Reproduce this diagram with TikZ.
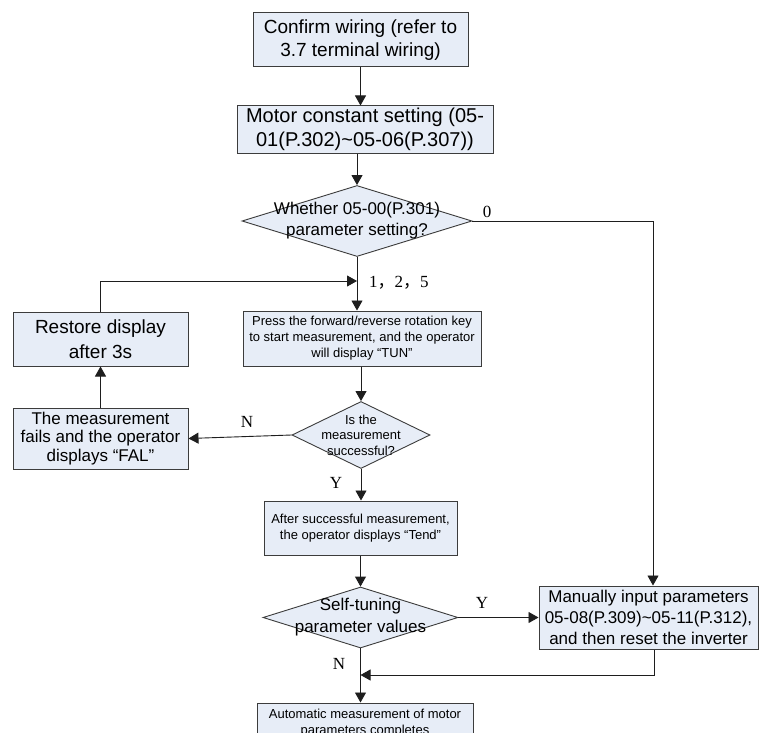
\documentclass[tikz,border=0pt]{standalone}
\usepackage{fontspec}
\setmainfont{Liberation Sans}
\newfontfamily\serifl{Liberation Serif}
\newfontfamily\cjk{Noto Sans CJK SC}
\usetikzlibrary{arrows.meta,shapes.geometric}
\definecolor{boxfill}{RGB}{231,237,247}
\definecolor{boxline}{RGB}{60,60,60}
\definecolor{conn}{RGB}{30,30,30}
\newcommand\myfs[2]{\fontsize{#1}{#2}\selectfont}
\begin{document}
\begin{tikzpicture}[x=1pt,y=-1pt,
  box/.style={draw=boxline, fill=boxfill, line width=1pt, inner sep=0pt, align=center, rectangle},
  dia/.style={draw=boxline, fill=boxfill, line width=0.9pt, diamond, inner sep=0pt},
  dtext/.style={inner sep=0pt, align=center},
  arr/.style={draw=conn, line width=0.9pt, -{Triangle[length=10pt,width=11pt]}},
  ln/.style={draw=conn, line width=0.9pt},
  lbl/.style={font=\serifl\myfs{17}{19}, inner sep=0pt}]
\useasboundingbox (0,0) rectangle (760,733);
\fill[white] (0,0) rectangle (760,733);

\node[box, minimum width=215pt, minimum height=54pt, font=\myfs{19}{23}] (b1) at (360.5,40) {Confirm wiring (refer to\\3.7 terminal wiring)};
\node[box, minimum width=256pt, minimum height=47pt, font=\myfs{20}{24}] (b2) at (365,129.5) {Motor constant setting (05-\\01(P.302)\textasciitilde 05-06(P.307))};
\node[dia, minimum width=230pt, minimum height=71pt] (d1) at (357,221) {};
\node[dtext, font=\myfs{17}{21}] (d1t) at (d1.center) {Whether 05-00(P.301)\\parameter setting?};
\node[lbl] (l0) at (487,212) {0};
\coordinate (c0) at (653,221);
\coordinate (j1) at (357,281);
\node[lbl, anchor=west] (l125) at (369,283) {1{\cjk ，}2{\cjk ，}5};
\node[box, minimum width=238pt, minimum height=55pt, font=\myfs{13}{16}] (p) at (362,338.5) {Press the forward/reverse rotation key\\to start measurement, and the operator\\will display “TUN”};
\node[box, minimum width=175pt, minimum height=54pt, font=\myfs{19}{25}] (r) at (100.5,339) {Restore display\\after 3s};
\node[box, minimum width=175pt, minimum height=61pt, font=\myfs{17}{18.5}] (f) at (100.5,438.5) {The measurement\\fails and the operator\\displays “FAL”};
\node[dia, minimum width=138pt, minimum height=67pt] (d2) at (361,435) {};
\node[dtext, font=\myfs{13}{15.5}] (d2t) at (d2.center) {Is the\\measurement\\successful?};
\node[lbl] (lN1) at (247,422) {N};
\node[lbl] (lY1) at (336,483) {Y};
\node[box, minimum width=193pt, minimum height=54pt, font=\myfs{13}{16}] (t) at (360.5,528) {After successful measurement,\\the operator displays “Tend”};
\node[dia, minimum width=195pt, minimum height=61pt] (d3) at (360.5,617.5) {};
\node[dtext, font=\myfs{17}{22}] (d3t) at (d3.center) {Self-tuning\\parameter values};
\node[box, minimum width=219pt, minimum height=63pt, font=\myfs{17}{21}] (m) at (648.5,617.5) {Manually input parameters\\05-08(P.309)\textasciitilde 05-11(P.312),\\and then reset the inverter};
\node[lbl] (lY2) at (482,603) {Y};
\node[lbl] (lN2) at (339,664) {N};
\coordinate (c1) at (654,675);
\coordinate (j2) at (360.5,675);
\node[box, minimum width=216pt, minimum height=40pt, font=\myfs{13}{16}] (a) at (365,723) {Automatic measurement of motor\\parameters completes};

\draw[arr] (b1.south) -- (b1.south |- b2.north);
\draw[arr] (d1.north |- b2.south) -- (d1.north);
\draw[arr] (d1.east) -- (c0) -- (c0 |- m.north);
\draw[arr] (d1.south) -- (d1.south |- p.north);
\draw[arr] (r.north) |- (j1);
\draw[arr] (d2.north |- p.south) -- (d2.north);
\draw[arr] (f.north) -- (r.south);
\draw[arr] (d2.west) -- (f.east);
\draw[arr] (d2.south) -- (d2.south |- t.north);
\draw[arr] (d3.north |- t.south) -- (d3.north);
\draw[arr] (d3.east) -- (m.west);
\draw[arr] (c1 |- m.south) -- (c1) -- (j2);
\draw[arr] (d3.south) -- (d3.south |- a.north);
\end{tikzpicture}
\end{document}
